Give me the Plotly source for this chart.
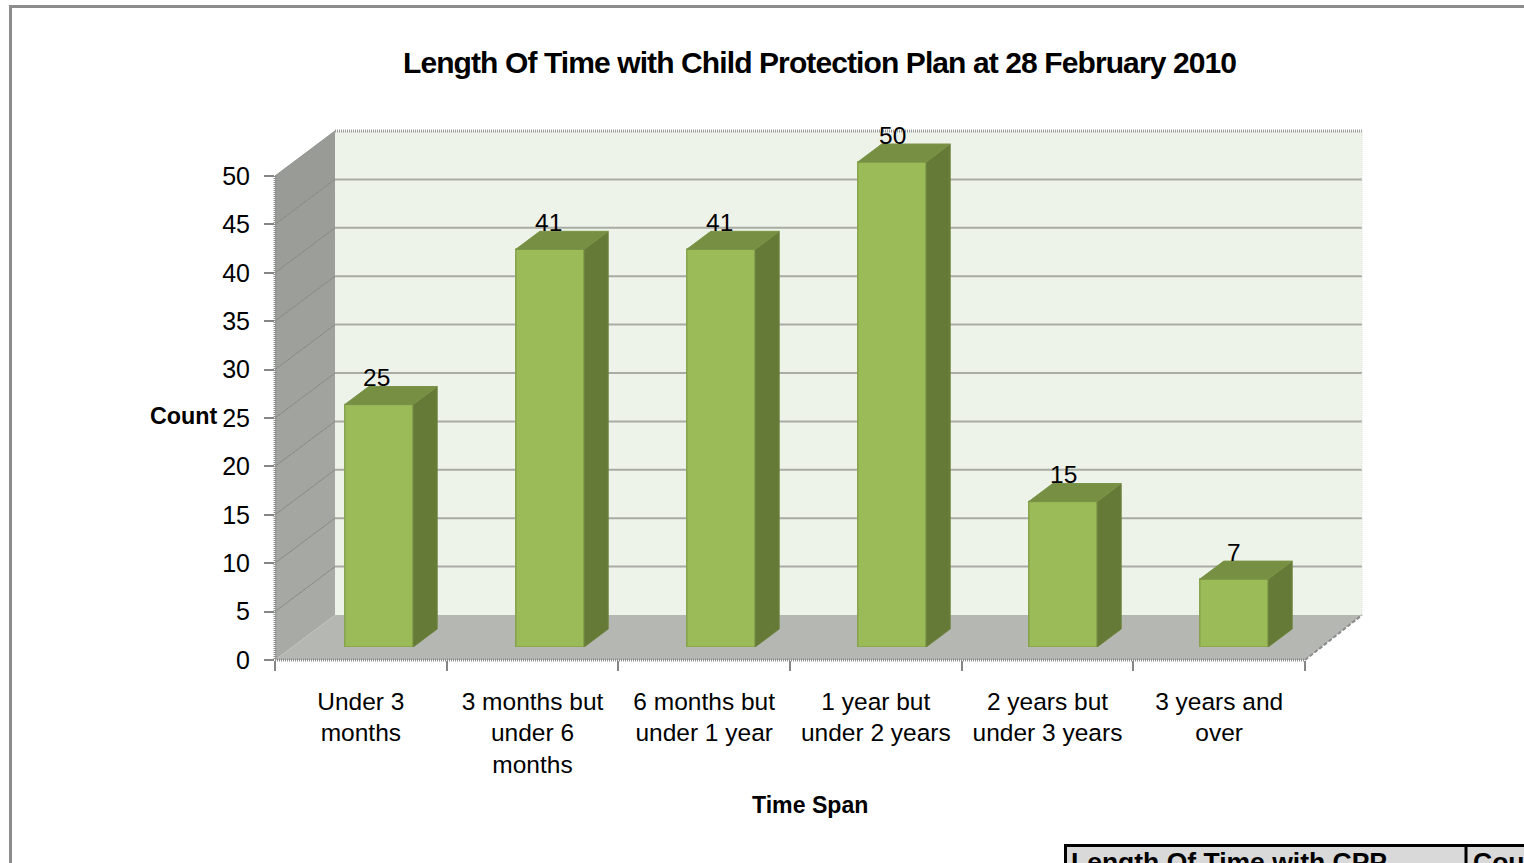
import plotly.graph_objects as go

CATEGORIES = ["Under 3<br>months", "3 months but<br>under 6<br>months", "6 months but<br>under 1 year",
              "1 year but<br>under 2 years", "2 years but<br>under 3 years", "3 years and<br>over"]
COUNTS = [25, 41, 41, 50, 15, 7]
Y_TICKS = [0, 5, 10, 15, 20, 25, 30, 35, 40, 45, 50]
TITLE = "Length Of Time with Child Protection Plan at 28 February 2010"
LABEL_NUDGE = [-3, -2, -2, 0, 0, 0]

W, H = 1524, 863
FONT = "Liberation Sans, Arial, sans-serif"
def px(x): return x / W
def py(y): return 1 - y / H
def poly(pts, fill, line=None, width=0, layer="below", dash=None):
    d = "M" + "L".join(f"{px(a):.5f},{py(b):.5f}" for a, b in pts) + "Z"
    return dict(type="path", xref="paper", yref="paper", path=d, fillcolor=fill, layer=layer,
                line=dict(color=line or "rgba(0,0,0,0)", width=width, dash=dash or "solid"))
def seg(x0, y0, x1, y1, color, width=2, dash="solid", layer="below"):
    return dict(type="line", xref="paper", yref="paper", x0=px(x0), y0=py(y0), x1=px(x1), y1=py(y1),
                line=dict(color=color, width=width, dash=dash), layer=layer)

# projection geometry (pixels)
FRONT0, FRONT50 = 660, 176
BACK0, BACK50 = 615, 131
LEFT, LEFTB, RIGHT, RIGHTB = 275, 335, 1305, 1362
BAR0, BAR50 = 647, 162
Y2_MAX = 60
def fy(v): return FRONT0 + (FRONT50 - FRONT0) * v / 50
def by(v): return BACK0 + (BACK50 - BACK0) * v / 50

shapes = []
# back wall
shapes.append(poly([(LEFTB, BACK50), (RIGHTB, BACK50), (RIGHTB, BACK0), (LEFTB, BACK0)], "#EEF3E9"))
# left wall bands
for a, b in zip(Y_TICKS[:-1], Y_TICKS[1:]):
    t = a / 50
    g = (int(168 - 16 * t), int(170 - 16 * t), int(165 - 16 * t))
    shapes.append(poly([(LEFT, fy(a)), (LEFTB, by(a)), (LEFTB, by(b)), (LEFT, fy(b))], "rgb(%d,%d,%d)" % g))
# floor
shapes.append(poly([(LEFT, FRONT0), (LEFTB, BACK0), (RIGHTB, BACK0), (RIGHT, FRONT0)], "#B5B7B2"))
# gridlines
for v in Y_TICKS[1:-1]:
    shapes.append(seg(LEFTB, by(v), RIGHTB, by(v), "#A9ABA5", 2))
    shapes.append(seg(LEFT, fy(v), LEFTB, by(v), "#85877F", 1))
# dotted edges
DOT = "#8C8C8C"
shapes.append(seg(LEFTB, BACK50, RIGHTB, BACK50, "#9A9A9A", 3, "1px,1px"))
shapes.append(seg(LEFT, FRONT0, RIGHT, FRONT0, DOT, 3, "1px,1px"))
shapes.append(seg(LEFT, FRONT50, LEFT, FRONT0, DOT, 3, "1px,1px"))
shapes.append(seg(LEFT, FRONT50, LEFTB, BACK50, "#8F918A", 1))
shapes.append(seg(RIGHT, FRONT0, RIGHTB, BACK0, DOT, 2, "4px,2px"))
shapes.append(seg(RIGHTB, BACK50, RIGHTB, BACK0, "#D8DDD3", 1, "1px,1px"))
# outer frame
shapes.append(seg(10.5, 6.5, W, 6.5, "#8C8C8C", 3, layer="above"))
shapes.append(seg(10.5, 5, 10.5, H, "#8C8C8C", 3, layer="above"))
# data-table fragment
shapes.append(poly([(1065, 845), (W, 845), (W, H), (1065, H)], "#D9D9D9", layer="below"))
shapes.append(seg(1065.5, 844, 1065.5, H, "#000000", 3, layer="above"))
shapes.append(seg(1064, 845.5, W, 845.5, "#000000", 3, layer="above"))
shapes.append(seg(1466, 845, 1466, H, "#000000", 3, layer="above"))

fig = go.Figure()

# invisible carrier for category axis
fig.add_trace(go.Scatter(x=CATEGORIES, y=COUNTS, mode="none", hoverinfo="skip", showlegend=False,
                         xaxis="x", yaxis="y"))

xpos = list(range(len(COUNTS)))
BAR_W = 0.4
DX = 24 / 171
DY = 18 * 50 / (BAR0 - BAR50)

fig.add_trace(go.Bar(x=xpos, y=COUNTS, width=BAR_W, xaxis="x2", yaxis="y2", showlegend=False,
                     marker=dict(color="#9BBB59", line=dict(color="#86A34A", width=1.5)), hoverinfo="skip"))
for i, v in zip(xpos, COUNTS):
    l, r = i - BAR_W / 2, i + BAR_W / 2
    fig.add_trace(go.Scatter(x=[r, r + DX, r + DX, r, r], y=[0, DY, v + DY, v, 0], mode="lines", fill="toself",
                             fillcolor="#657A36", line=dict(color="#6F8540", width=1), xaxis="x2", yaxis="y2",
                             showlegend=False, hoverinfo="skip"))
    fig.add_trace(go.Scatter(x=[l, l + DX, r + DX, r, l], y=[v, v + DY, v + DY, v, v], mode="lines", fill="toself",
                             fillcolor="#778F43", line=dict(color="#7A9346", width=1), xaxis="x2", yaxis="y2",
                             showlegend=False, hoverinfo="skip"))

annotations = []
for i, v, n in zip(xpos, COUNTS, LABEL_NUDGE):
    annotations.append(dict(x=i, y=v, xref="x2", yref="y2", text=str(v), showarrow=False, yshift=27, xshift=n,
                            font=dict(family=FONT, size=24.5, color="#000000"), xanchor="center", yanchor="middle"))
def note(x, y, text, size, bold=True, xa="center", ya="middle"):
    t = f"<b>{text}</b>" if bold else text
    return dict(x=px(x), y=py(y), xref="paper", yref="paper", text=t, showarrow=False,
                font=dict(family=FONT, size=size, color="#000000"), xanchor=xa, yanchor=ya,
                borderpad=0, borderwidth=0)
annotations.append(note(184, 416, "Count", 23.3))
annotations.append(note(809.5, 805, "Time Span", 23.1))
annotations.append(note(1071, 846.5, "Length Of Time with CPP", 26.5, xa="left", ya="top"))
annotations.append(note(1473, 846.5, "Count", 26.5, xa="left", ya="top"))

fig.update_layout(
    width=W, height=H, margin=dict(l=0, r=0, t=0, b=0, autoexpand=False), paper_bgcolor="#FFFFFF",
    plot_bgcolor="rgba(0,0,0,0)",
    showlegend=False, shapes=shapes, annotations=annotations, bargap=0.6,
    font=dict(family=FONT, color="#000000"),
    title=dict(text=f"<b>{TITLE}</b>", x=819.5 / W, xanchor="center", y=py(62), yanchor="middle",
               font=dict(family=FONT, size=30, color="#000000")),
    xaxis=dict(domain=[px(LEFT), px(RIGHT)], type="category", categoryorder="array", categoryarray=CATEGORIES,
               range=[-0.5, 5.5], tickson="boundaries", ticks="outside", ticklen=10, tickwidth=2, tickcolor="#868686",
               showgrid=False, zeroline=False, showline=False, anchor="y", ticklabelstandoff=24,
               tickfont=dict(family=FONT, size=24.5, color="#000000"), tickangle=0, fixedrange=True),
    yaxis=dict(domain=[py(FRONT0), py(FRONT50)], range=[0, 50], tickvals=Y_TICKS, ticks="outside", ticklen=10,
               tickwidth=2, tickcolor="#868686", showgrid=False, zeroline=False, showline=False, anchor="x",
               ticklabelstandoff=9, tickfont=dict(family=FONT, size=25, color="#000000"), fixedrange=True),
    xaxis2=dict(domain=[px(293.5), px(1319.5)], range=[-0.5, 5.5], visible=False, anchor="y2", fixedrange=True),
    yaxis2=dict(domain=[py(BAR0), py(BAR0 + (BAR50 - BAR0) * Y2_MAX / 50)], range=[0, Y2_MAX], visible=False,
                anchor="x2", fixedrange=True),
)

POST = """
document.body.style.margin='0';
document.documentElement.style.overflow='hidden';
var st=document.createElement('style');
st.textContent='.gtitle{letter-spacing:-0.9px}';
document.head.appendChild(st);
"""
fig.write_html("out.html", config=dict(displayModeBar=False), post_script=POST)
